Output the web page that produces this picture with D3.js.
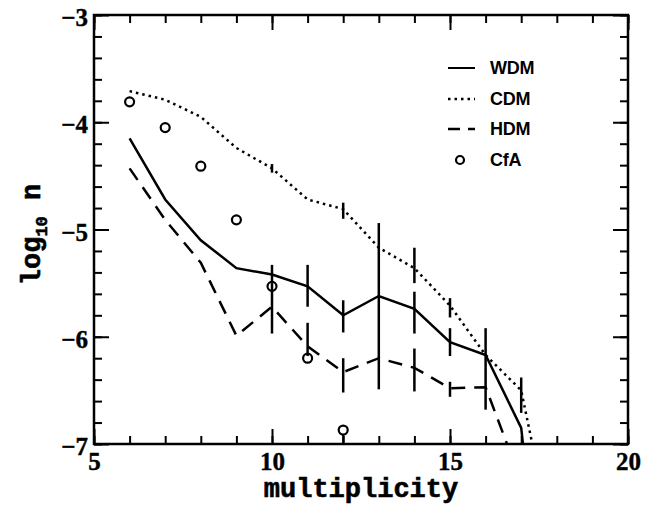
<!DOCTYPE html>
<html><head><meta charset="utf-8">
<script src="https://cdn.jsdelivr.net/npm/d3@7"></script>
<style>body{margin:0;background:#fff}svg{display:block}</style>
</head><body><svg id="c" width="645" height="506"></svg>
<script>
// ---- data ----
const multiplicity = [6, 7, 8, 9, 10, 11, 12, 13, 14, 15, 16, 17, 18];
const wdm = [-4.15, -4.72, -5.10, -5.36, -5.42, -5.53, -5.80, -5.62, -5.74, -6.05, -6.17, -6.85, -9.9];
const cdm = [-3.71, -3.79, -3.95, -4.24, -4.43, -4.72, -4.81, -5.17, -5.36, -5.71, -6.17, -6.50, -8.1];
const hdm = [-4.43, -4.91, -5.31, -5.99, -5.72, -6.09, -6.33, -6.20, -6.29, -6.48, -6.47, -7.35, null];

const cfaX = [6, 7, 8, 9, 10, 11, 12];
const cfaY = [-3.81, -4.05, -4.41, -4.91, -5.53, -6.20, -6.87];

// error bars
const wdmErrX  = [10, 11, 12, 13, 14, 15, 16];
const wdmErrHi = [-5.33, -5.33, -5.66, -4.94, -5.58, -5.92, -5.92];
const wdmErrLo = [-5.50, -5.72, -5.96, -6.49, -5.97, -6.18, -6.68];
const hdmErrX  = [10, 11, 12, 14, 15];
const hdmErrHi = [-5.50, -5.87, -6.20, -6.11, -6.42];
const hdmErrLo = [-5.97, -6.18, -6.52, -6.51, -6.56];
const cdmErrX  = [10, 12, 14, 15, 17];
const cdmErrHi = [-4.39, -4.75, -5.17, -5.64, -6.38];
const cdmErrLo = [-4.47, -4.90, -5.50, -5.82, -6.71];
const cfaErrX  = [12];
const cfaErrHi = [-6.87];
const cfaErrLo = [-7.0];

const xMajor = [5, 10, 15, 20];
const xMinor = d3.range(5, 21, 1);
const yMajor = [-7, -6, -5, -4, -3];
const yMinor = d3.range(-7, -2.99, 0.2);

const legendNames = ["WDM", "CDM", "HDM", "CfA"];

// ---- layout ----
const L = 94, R = 628, T = 15, B = 444;
const svg = d3.select("#c");
const x = d3.scaleLinear().domain([5, 20]).range([L, R]);
const y = d3.scaleLinear().domain([-7, -3]).range([B, T]);
const numFont = "'Liberation Serif', serif";
const titleFont = "'Liberation Mono', 'Courier New', monospace";

svg.append("defs").append("clipPath").attr("id", "clip")
  .append("rect").attr("x", L).attr("y", T).attr("width", R - L).attr("height", B - T);

const plot = svg.append("g").attr("clip-path", "url(#clip)");

const line = d3.line().defined(d => d[1] !== null).x(d => x(d[0])).y(d => y(d[1]));
const zip = arr => multiplicity.map((m, i) => [m, arr[i]]);

const styles = {
  WDM: {dash: null},
  CDM: {dash: "2.5,4"},
  HDM: {dash: "14,9"}
};

[["WDM", wdm], ["CDM", cdm], ["HDM", hdm]].forEach(([name, vals]) => {
  plot.append("path").datum(zip(vals)).attr("d", line)
    .attr("fill", "none").attr("stroke", "#000").attr("stroke-width", 2.5)
    .attr("stroke-dasharray", styles[name].dash);
});

function errBars(xs, his, los) {
  plot.append("g").selectAll("line").data(xs).join("line")
    .attr("x1", d => x(d)).attr("x2", d => x(d))
    .attr("y1", (d, i) => y(his[i])).attr("y2", (d, i) => y(los[i]))
    .attr("stroke", "#000").attr("stroke-width", 2.5);
}
errBars(wdmErrX, wdmErrHi, wdmErrLo);
errBars(hdmErrX, hdmErrHi, hdmErrLo);
errBars(cdmErrX, cdmErrHi, cdmErrLo);

const cr = 4.5;
plot.append("g").selectAll("line").data(cfaErrX).join("line")
  .attr("x1", d => x(d)).attr("x2", d => x(d))
  .attr("y1", (d, i) => y(cfaErrHi[i]) + cr).attr("y2", (d, i) => y(cfaErrLo[i]))
  .attr("stroke", "#000").attr("stroke-width", 2.2);

plot.append("g").selectAll("circle").data(cfaX).join("circle")
  .attr("cx", d => x(d)).attr("cy", (d, i) => y(cfaY[i])).attr("r", cr)
  .attr("fill", "none").attr("stroke", "#000").attr("stroke-width", 2.2);

// ---- axes ----
function styleAxis(g) {
  g.select(".domain").remove();
  g.selectAll(".tick line").attr("stroke", "#000").attr("stroke-width", 2);
  g.selectAll("text").attr("font-family", numFont).attr("font-weight", "bold")
    .attr("font-size", 25).attr("fill", "#000")
    .attr("stroke", "#000").attr("stroke-width", 0.4);
}
// bottom
svg.append("g").attr("transform", `translate(0,${B})`)
  .call(d3.axisBottom(x).tickValues(xMinor).tickSize(-8).tickFormat("")).call(styleAxis);
svg.append("g").attr("transform", `translate(0,${B})`)
  .call(d3.axisBottom(x).tickValues(xMajor).tickSize(-15).tickPadding(8).tickFormat(d3.format("d"))).call(styleAxis);
// top
svg.append("g").attr("transform", `translate(0,${T})`)
  .call(d3.axisTop(x).tickValues(xMinor).tickSize(-8).tickFormat("")).call(styleAxis);
svg.append("g").attr("transform", `translate(0,${T})`)
  .call(d3.axisTop(x).tickValues(xMajor).tickSize(-15).tickFormat("")).call(styleAxis);
// left
svg.append("g").attr("transform", `translate(${L},0)`)
  .call(d3.axisLeft(y).tickValues(yMinor).tickSize(-8).tickFormat("")).call(styleAxis);
const yl = svg.append("g").attr("transform", `translate(${L},0)`)
  .call(d3.axisLeft(y).tickValues(yMajor).tickSize(-15).tickPadding(6)
    .tickFormat(d => "\u2212" + Math.abs(d))).call(styleAxis);
yl.selectAll("text").attr("dy", "0.42em");
// right
svg.append("g").attr("transform", `translate(${R},0)`)
  .call(d3.axisRight(y).tickValues(yMinor).tickSize(-8).tickFormat("")).call(styleAxis);
svg.append("g").attr("transform", `translate(${R},0)`)
  .call(d3.axisRight(y).tickValues(yMajor).tickSize(-15).tickFormat("")).call(styleAxis);

// frame
svg.append("rect").attr("x", L).attr("y", T).attr("width", R - L).attr("height", B - T)
  .attr("fill", "none").attr("stroke", "#000").attr("stroke-width", 2.5);

// titles
svg.append("text").attr("x", (L + R) / 2).attr("y", 497).attr("text-anchor", "middle")
  .attr("font-family", titleFont).attr("font-weight", "bold").attr("font-size", 27)
  .attr("stroke", "#000").attr("stroke-width", 0.6)
  .text("multiplicity");

const yt = svg.append("text").attr("transform", `translate(40,${(T + B) / 2 + 5}) rotate(-90)`)
  .attr("text-anchor", "middle").attr("font-family", titleFont).attr("font-weight", "bold")
  .attr("font-size", 27).attr("stroke", "#000").attr("stroke-width", 0.6);
yt.append("tspan").text("log");
yt.append("tspan").attr("font-size", 17).attr("dy", 7).text("10");
yt.append("tspan").attr("dy", -7).text(" n");

// ---- legend ----
const lg = svg.append("g");
const rowY = [68, 99, 129, 160];
legendNames.forEach((name, i) => {
  const yy = rowY[i];
  if (name === "CfA") {
    lg.append("circle").attr("cx", 460).attr("cy", yy).attr("r", 4)
      .attr("fill", "none").attr("stroke", "#000").attr("stroke-width", 2.2);
  } else if (name === "HDM") {
    lg.append("line").attr("x1", 448).attr("x2", 475).attr("y1", yy).attr("y2", yy)
      .attr("stroke", "#000").attr("stroke-width", 2.5).attr("stroke-dasharray", "12,8,7");
  } else {
    lg.append("line").attr("x1", 448).attr("x2", 475).attr("y1", yy).attr("y2", yy)
      .attr("stroke", "#000").attr("stroke-width", name === "WDM" ? 2 : 2.5)
      .attr("stroke-dasharray", styles[name].dash);
  }
  lg.append("text").attr("x", 490).attr("y", yy).attr("dy", "0.36em")
    .attr("font-family", "'Liberation Sans', Arial, sans-serif").attr("font-weight", "bold")
    .attr("font-size", 18).attr("letter-spacing", -0.3).text(name);
});
</script>
</body></html>
